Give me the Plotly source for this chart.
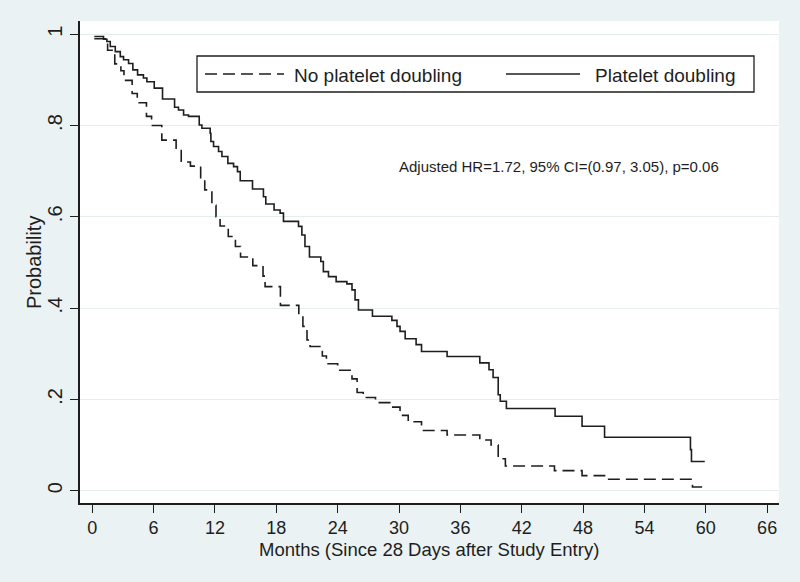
import plotly.graph_objects as go

# ---- data (months, survival probability) ----
months_platelet = [0.2, 1.1, 1.43, 1.76, 2.25, 2.74, 3.06, 3.55, 3.97, 4.43, 5.0, 5.34,
                   6.06, 6.87, 8.05, 8.43, 8.93, 9.41, 10.46, 10.72, 11.53, 11.6, 11.86,
                   12.35, 12.68, 13.26, 13.82, 14.2, 14.47, 15.67, 16.74, 16.97, 17.78,
                   18.37, 18.7, 20.17, 20.5, 20.8, 21.24, 22.35, 22.6, 23.1, 23.85, 24.9,
                   25.4, 25.7, 26.03, 27.4, 29.3, 29.8, 30.1, 30.6, 31.67, 32.2, 34.7,
                   37.9, 38.8, 39.2, 39.7, 39.9, 40.5, 45.26, 47.9, 50.1, 58.5, 58.6, 59.9]
surv_platelet = [0.995, 0.989, 0.984, 0.973, 0.962, 0.951, 0.944, 0.936, 0.922, 0.911, 0.904, 0.896,
                 0.882, 0.858, 0.840, 0.834, 0.823, 0.820, 0.801, 0.794, 0.783, 0.765, 0.754,
                 0.743, 0.732, 0.717, 0.710, 0.699, 0.679, 0.661, 0.644, 0.628, 0.615,
                 0.608, 0.590, 0.579, 0.560, 0.535, 0.512, 0.502, 0.480, 0.469, 0.458, 0.453,
                 0.440, 0.418, 0.396, 0.382, 0.373, 0.360, 0.349, 0.333, 0.320, 0.305, 0.294,
                 0.280, 0.265, 0.248, 0.210, 0.196, 0.180, 0.163, 0.141, 0.117, 0.090, 0.064, 0.064]

months_no_platelet = [0.2, 1.5, 2.2, 2.8, 3.1, 3.9, 4.4, 5.3, 5.8, 6.8, 8.2, 8.7, 9.6, 10.6,
                      11.0, 11.7, 12.1, 12.5, 13.3, 14.0, 14.5, 15.7, 16.7, 16.9, 18.4,
                      20.2, 20.6, 21.0, 21.3, 22.5, 22.9, 24.0, 25.4, 25.9, 26.5, 27.7,
                      29.3, 30.1, 30.9, 32.2, 34.7, 37.9, 39.0, 39.7, 40.4, 45.2, 47.9,
                      50.1, 58.7, 59.9]
surv_no_platelet = [0.990, 0.965, 0.935, 0.920, 0.899, 0.870, 0.850, 0.820, 0.800, 0.768, 0.745, 0.720,
                    0.711, 0.680, 0.659, 0.625, 0.600, 0.580, 0.557, 0.535, 0.512, 0.493, 0.470,
                    0.447, 0.406, 0.385, 0.360, 0.330, 0.316, 0.295, 0.278, 0.264, 0.245, 0.215,
                    0.204, 0.193, 0.183, 0.165, 0.151, 0.132, 0.122, 0.111, 0.100, 0.070, 0.054,
                    0.044, 0.033, 0.025, 0.008, 0.008]

x_ticks = list(range(0, 67, 6))
y_ticks = [0, 0.2, 0.4, 0.6, 0.8, 1.0]
y_tick_text = ["0", ".2", ".4", ".6", ".8", "1"]
legend_labels = ["No platelet doubling", "Platelet doubling"]
note_text = "Adjusted HR=1.72, 95% CI=(0.97, 3.05), p=0.06"

FONT = "Arial, Liberation Sans, sans-serif"
INK = "#1e1e1e"

fig = go.Figure()
fig.add_trace(go.Scatter(x=months_no_platelet, y=surv_no_platelet, mode="lines",
                         line=dict(shape="hv", color=INK, width=1.6, dash="12px,6px"),
                         name=legend_labels[0], showlegend=False))
fig.add_trace(go.Scatter(x=months_platelet, y=surv_platelet, mode="lines",
                         line=dict(shape="hv", color=INK, width=1.6),
                         name=legend_labels[1], showlegend=False))

# manual Stata-style legend (paper coordinates)
L, R, T, B = 80, 21, 21, 79
W, H = 800, 582
pw, ph = W - L - R, H - T - B
def px(xp):
    return (xp - L) / pw
def py(yp):
    return (H - B - yp) / ph

shapes = [
    dict(type="rect", xref="paper", yref="paper", x0=px(197), x1=px(754), y0=py(92), y1=py(56),
         line=dict(color=INK, width=1.3), fillcolor="white"),
    dict(type="line", xref="paper", yref="paper", x0=px(205), x1=px(284), y0=py(74), y1=py(74),
         line=dict(color=INK, width=1.4, dash="12px,6px")),
    dict(type="line", xref="paper", yref="paper", x0=px(506), x1=px(580), y0=py(74), y1=py(74),
         line=dict(color=INK, width=1.4)),
]
annotations = [
    dict(xref="paper", yref="paper", x=px(292), y=py(75), xanchor="left", yanchor="middle",
         text=legend_labels[0], showarrow=False, font=dict(family=FONT, size=19, color=INK)),
    dict(xref="paper", yref="paper", x=px(593), y=py(75), xanchor="left", yanchor="middle",
         text=legend_labels[1], showarrow=False, font=dict(family=FONT, size=19, color=INK)),
    dict(xref="x", yref="y", x=29.8, y=0.71, xanchor="left", yanchor="middle",
         text=note_text, showarrow=False, font=dict(family=FONT, size=15, color=INK)),
    dict(xref="paper", yref="paper", x=px(34), y=py(262), xanchor="center", yanchor="middle",
         text="Probability", textangle=-90, showarrow=False,
         font=dict(family=FONT, size=20, color=INK)),
    dict(xref="paper", yref="paper", x=px(429), y=py(549), xanchor="center", yanchor="middle",
         text="Months (Since 28 Days after Study Entry)", showarrow=False,
         font=dict(family=FONT, size=18.5, color=INK)),
]

fig.update_layout(
    width=W, height=H,
    margin=dict(l=L, r=R, t=T, b=B, pad=0),
    paper_bgcolor="#EAF2F3",
    plot_bgcolor="white",
    font=dict(family=FONT, color=INK),
    shapes=shapes,
    annotations=annotations,
    showlegend=False,
)
fig.update_xaxes(
    range=[-1.2, 67.16], tickvals=x_ticks, ticks="outside", ticklen=8, tickwidth=1.3,
    tickcolor=INK, showline=True, linecolor=INK, linewidth=1.6, showgrid=False, zeroline=False,
    tickfont=dict(family=FONT, size=18, color=INK), automargin=False,
)
fig.update_yaxes(
    range=[-0.027, 1.029], tickvals=y_ticks, ticktext=y_tick_text, tickangle=-90,
    ticks="outside", ticklen=8, tickwidth=1.3, tickcolor=INK,
    showline=True, linecolor=INK, linewidth=1.6, showgrid=True, gridcolor="#E6EDEE", gridwidth=1,
    zeroline=False, automargin=False,
    tickfont=dict(family=FONT, size=20, color=INK),
)

fig.write_html("out.html", config={"displayModeBar": False},
               post_script="document.body.style.margin='0';document.body.style.overflow='hidden';")
